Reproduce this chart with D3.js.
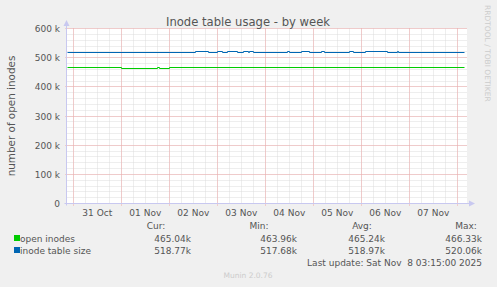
<!DOCTYPE html>
<html>
<head>
<meta charset="utf-8">
<script src="https://d3js.org/d3.v7.min.js"></script>
<style>
  html, body { margin: 0; padding: 0; background: #f0f0f0; }
  #chart { width: 497px; height: 287px; }
  text { font-family: "DejaVu Sans", sans-serif; fill: #555; }
</style>
</head>
<body>
<div id="chart"></div>
<script>
// 时间范围（munin 周视图：8.33 天）
const timeDomain = ["2025-10-30T20:51:00", "2025-11-08T04:51:00"];
const dayTicks = ["2025-10-31", "2025-11-01", "2025-11-02", "2025-11-03", "2025-11-04",
                  "2025-11-05", "2025-11-06", "2025-11-07", "2025-11-08"];
const yTicks = [0, 100000, 200000, 300000, 400000, 500000, 600000];
const yTickLabels = ["0", "100 k", "200 k", "300 k", "400 k", "500 k", "600 k"];

// open inodes
const openTimes = ["2025-10-30T20:51:00", "2025-11-01T00:00:00", "2025-11-01T18:00:00",
                   "2025-11-01T19:00:00", "2025-11-02T00:00:00", "2025-11-08T03:15:00"];
const openValues = [465600, 463960, 465200, 463960, 465200, 465040];

// inode table size
const sizeTimes = ["2025-10-30T20:51:00", "2025-11-02T13:00:00", "2025-11-02T19:30:00",
                   "2025-11-03T00:00:00", "2025-11-03T02:30:00", "2025-11-03T05:00:00",
                   "2025-11-03T10:00:00", "2025-11-03T13:00:00", "2025-11-03T15:30:00",
                   "2025-11-03T16:00:00", "2025-11-03T18:00:00", "2025-11-04T11:00:00",
                   "2025-11-04T12:00:00", "2025-11-04T18:00:00", "2025-11-04T22:00:00",
                   "2025-11-05T04:00:00", "2025-11-05T05:30:00", "2025-11-05T18:00:00",
                   "2025-11-05T20:00:00", "2025-11-06T02:00:00", "2025-11-06T13:00:00",
                   "2025-11-06T18:00:00", "2025-11-06T18:30:00", "2025-11-08T03:15:00"];
const sizeValues = [518300, 520060, 518300, 520060, 518300, 520060, 518300, 520060, 518300,
                    520060, 518300, 520060, 518300, 520060, 518300, 520060, 518300, 520060,
                    518300, 520060, 518300, 520060, 518300, 518770];

// 图例
const legendNames = ["open inodes", "inode table size"];
const legendColors = ["#00cc00", "#0066b3"];
const legendHeaders = ["Cur:", "Min:", "Avg:", "Max:"];
const legendStats = [["465.04k", "463.96k", "465.24k", "466.33k"],
                     ["518.77k", "517.68k", "518.97k", "520.06k"]];

document.addEventListener('DOMContentLoaded', function () {
    const W = 497, H = 287;
    const plot = {left: 67, right: 467, top: 28, bottom: 203};
    const parse = d3.isoParse;
    const small = "9px";

    const svg = d3.select("#chart").append("svg")
        .attr("width", W)
        .attr("height", H);

    svg.append("rect").attr("width", W).attr("height", H).attr("fill", "#f0f0f0");

    const x = d3.scaleTime()
        .domain(timeDomain.map(parse))
        .range([plot.left, plot.right]);

    const y = d3.scaleLinear()
        .domain([0, 600000])
        .rangeRound([plot.bottom, plot.top]);

    // 绘图区白底
    svg.append("rect")
        .attr("x", plot.left).attr("y", plot.top)
        .attr("width", plot.right - plot.left).attr("height", plot.bottom - plot.top)
        .attr("fill", "#ffffff");

    const g = svg.append("g").attr("transform", "translate(0.5,0.5)");

    // 次网格：每 6 小时、每 20k
    const minorX = d3.timeHour.every(6).range(x.domain()[0], x.domain()[1]);
    g.append("g").selectAll("line")
        .data(minorX)
        .enter().append("line")
        .attr("x1", d => Math.round(x(d))).attr("x2", d => Math.round(x(d)))
        .attr("y1", plot.top).attr("y2", plot.bottom)
        .attr("stroke", "#dcdcdc").attr("stroke-dasharray", "1,1");

    g.append("g").selectAll("line")
        .data(d3.range(20000, 600001, 20000))
        .enter().append("line")
        .attr("x1", plot.left).attr("x2", plot.right)
        .attr("y1", d => y(d)).attr("y2", d => y(d))
        .attr("stroke", "#dcdcdc").attr("stroke-dasharray", "1,1");

    // 主网格：每天、每 100k
    g.append("g").selectAll("line")
        .data(dayTicks.map(parse))
        .enter().append("line")
        .attr("x1", d => Math.round(x(d))).attr("x2", d => Math.round(x(d)))
        .attr("y1", plot.top).attr("y2", plot.bottom + 2)
        .attr("stroke", "#f0a8a8").attr("stroke-dasharray", "1,1");

    g.append("g").selectAll("line")
        .data(yTicks.slice(1))
        .enter().append("line")
        .attr("x1", plot.left - 2).attr("x2", plot.right)
        .attr("y1", d => y(d)).attr("y2", d => y(d))
        .attr("stroke", "#f0a8a8").attr("stroke-dasharray", "1,1");

    // 坐标轴线和箭头
    const axisColor = "#c8c8f0";
    g.append("line")
        .attr("x1", plot.left - 1).attr("x2", plot.left - 1)
        .attr("y1", plot.bottom + 2).attr("y2", plot.top - 5)
        .attr("stroke", axisColor);
    g.append("line")
        .attr("x1", plot.left - 3).attr("x2", plot.right + 2)
        .attr("y1", plot.bottom).attr("y2", plot.bottom)
        .attr("stroke", axisColor);
    svg.append("path")
        .attr("d", `M${plot.left - 3.5},${plot.top - 2}L${plot.left + 2.5},${plot.top - 2}L${plot.left - 0.5},${plot.top - 8}Z`)
        .attr("fill", axisColor);
    svg.append("path")
        .attr("d", `M${plot.right + 2},${plot.bottom - 2.5}L${plot.right + 2},${plot.bottom + 3.5}L${plot.right + 8},${plot.bottom + 0.5}Z`)
        .attr("fill", axisColor);

    // 数据线
    const line = d3.line()
        .x(d => Math.round(x(d[0])))
        .y(d => y(d[1]))
        .curve(d3.curveStepAfter);

    g.append("path")
        .datum(openTimes.map((t, i) => [parse(t), openValues[i]]))
        .attr("fill", "none")
        .attr("stroke", legendColors[0])
        .attr("stroke-width", 1)
        .attr("d", line);

    g.append("path")
        .datum(sizeTimes.map((t, i) => [parse(t), sizeValues[i]]))
        .attr("fill", "none")
        .attr("stroke", legendColors[1])
        .attr("stroke-width", 1)
        .attr("d", line);

    // y 轴刻度文字
    svg.append("g").selectAll("text")
        .data(yTicks)
        .enter().append("text")
        .attr("x", 60)
        .attr("y", d => y(d) + 3.5)
        .attr("text-anchor", "end")
        .style("font-size", small)
        .text((d, i) => yTickLabels[i]);

    // x 轴日期（标签在中午）
    const fmt = d3.timeFormat("%d %b");
    svg.append("g").selectAll("text")
        .data(dayTicks.slice(0, -1).map(parse))
        .enter().append("text")
        .attr("x", d => x(d3.timeHour.offset(d, 12)))
        .attr("y", 216)
        .attr("text-anchor", "middle")
        .style("font-size", small)
        .text(d => fmt(d));

    // 标题
    svg.append("text")
        .attr("x", 248).attr("y", 26)
        .attr("text-anchor", "middle")
        .style("font-size", "11.6px")
        .text("Inode table usage - by week");

    // y 轴名称
    svg.append("text")
        .attr("transform", "translate(15,116) rotate(-90)")
        .attr("text-anchor", "middle")
        .style("font-size", "10.4px")
        .text("number of open inodes");

    // 右侧署名
    svg.append("text")
        .attr("transform", "translate(485,5) rotate(90)")
        .attr("text-anchor", "start")
        .style("font-size", "7.5px")
        .style("fill", "#cccccc")
        .text("RRDTOOL / TOBI OETIKER");

    // 图例表头
    const colRight = [191, 297, 385, 482];
    const headerX = [156, 259, 362, 466];
    svg.append("g").selectAll("text")
        .data(legendHeaders)
        .enter().append("text")
        .attr("x", (d, i) => headerX[i]).attr("y", 229)
        .attr("text-anchor", "middle")
        .style("font-size", small)
        .text(d => d);

    const rows = svg.append("g").selectAll("g")
        .data(legendNames)
        .enter().append("g")
        .attr("transform", (d, i) => `translate(0,${242 + i * 12})`);

    rows.append("rect")
        .attr("x", 14).attr("y", -7)
        .attr("width", 6).attr("height", 6)
        .attr("fill", (d, i) => legendColors[i]);

    rows.append("text")
        .attr("x", 20).attr("y", 0)
        .style("font-size", small)
        .text(d => d);

    rows.each(function (d, i) {
        d3.select(this).selectAll(".stat")
            .data(legendStats[i])
            .enter().append("text")
            .attr("class", "stat")
            .attr("x", (s, j) => colRight[j]).attr("y", 0)
            .attr("text-anchor", "end")
            .style("font-size", small)
            .text(s => s);
    });

    svg.append("text")
        .attr("x", 482).attr("y", 266)
        .attr("text-anchor", "end")
        .style("font-size", small)
        .text("Last update: Sat Nov\u00a0\u00a08 03:15:00 2025");

    svg.append("text")
        .attr("x", 248).attr("y", 278)
        .attr("text-anchor", "middle")
        .style("font-size", "7.5px")
        .style("fill", "#cccccc")
        .text("Munin 2.0.76");
});
</script>
</body>
</html>
